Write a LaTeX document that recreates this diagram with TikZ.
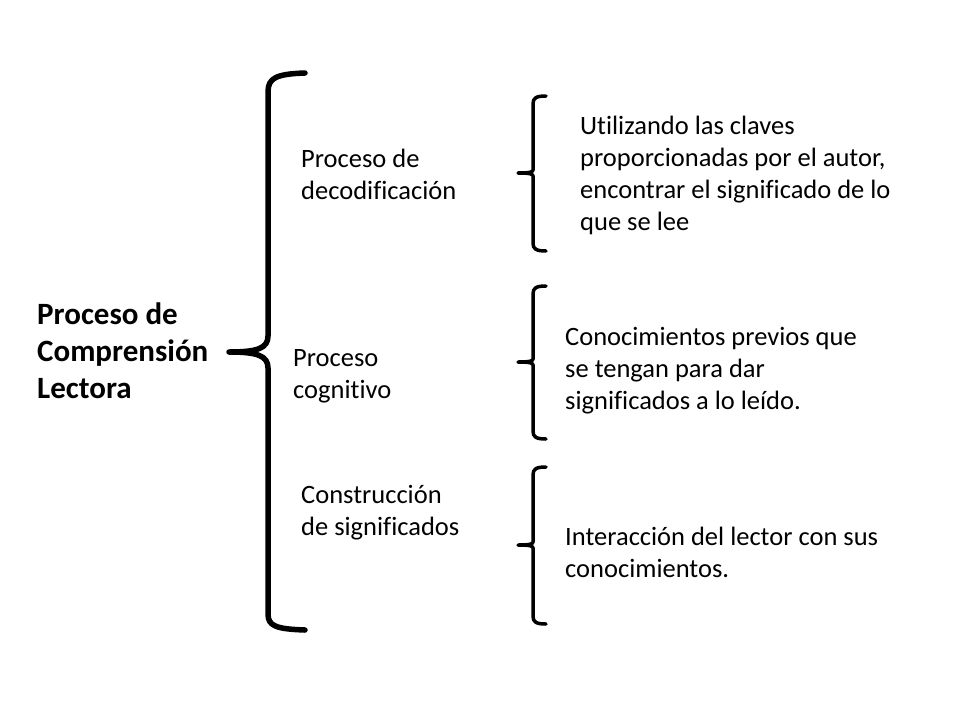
\documentclass[tikz,border=0pt]{standalone}
\usepackage{fontspec}
\setmainfont[Ligatures=NoCommon]{Carlito}
\usepackage{tikz}
\tikzstyle{titulo} = [anchor=west, align=left, inner sep=0pt,
    font=\fontsize{31}{37}\selectfont\bfseries]
\tikzstyle{proceso} = [anchor=west, align=left, inner sep=0pt,
    font=\fontsize{26.5}{32}\selectfont]
\tikzstyle{texto} = [anchor=west, align=left, inner sep=0pt,
    font=\fontsize{26.5}{32}\selectfont]
\tikzstyle{llave} = [draw, line cap=round, line join=round]

\begin{document}
\begin{tikzpicture}[x=1pt, y=-1pt]
    \useasboundingbox [fill=white] (0,0) rectangle (960,720);
    % Place nodes
    \node [titulo] (lectura) at (37,351) {Proceso de\\Comprensión\\Lectora};
    \node [proceso] (decod) at (301,174) {Proceso de\\decodificación};
    \node [proceso] (cogn) at (293,376) {Proceso\\cognitivo};
    \node [proceso] (constr) at (301,513) {Construcción\\de significados};
    \node [texto] (claves) at (580,175) {Utilizando las claves\\proporcionadas por el autor,\\encontrar el significado de lo\\que se lee};
    \node [texto] (previos) at (565,371) {Conocimientos previos que\\se tengan para dar\\significados a lo leído.};
    \node [texto] (interac) at (565,552) {Interacción del lector con sus\\conocimientos.};
    % Draw braces
    \path [llave, line width=5.5pt] (305,73) .. controls (276,74) and (268,78) .. (268,92)
        -- (268,336) .. controls (268,348) and (258,352) .. (229,352)
        .. controls (258,352) and (268,356) .. (268,368)
        -- (268,614) .. controls (268,626) and (276,629) .. (305,630);
    \foreach \ya/\yb/\yc in {96/173/251, 286/362/439, 467/545/624} {
        \path [llave, line width=3.5pt] (546,\ya) .. controls (536,\ya) and (533,\ya+2) .. (533,\ya+8)
            -- (533,\yb-3) .. controls (533,\yb-1) and (530,\yb) .. (518,\yb)
            .. controls (530,\yb) and (533,\yb+1) .. (533,\yb+3)
            -- (533,\yc-8) .. controls (533,\yc-2) and (536,\yc) .. (546,\yc);
    }
\end{tikzpicture}
\end{document}
